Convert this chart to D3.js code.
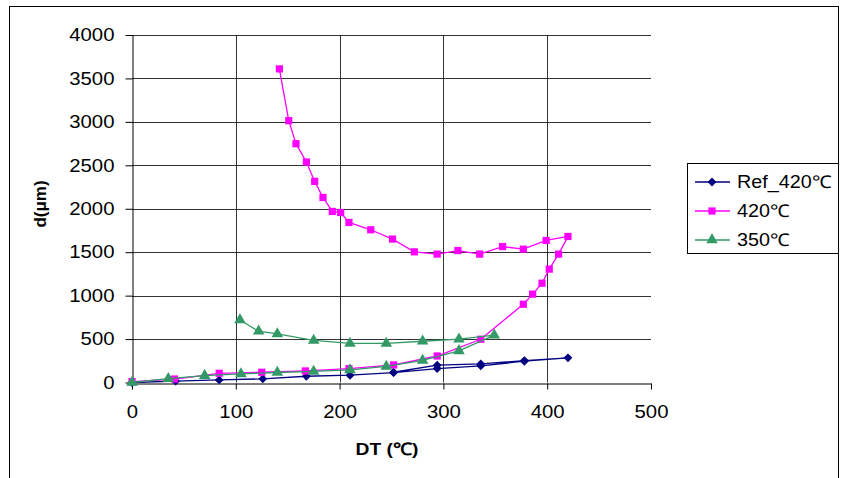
<!DOCTYPE html>
<html>
<head>
<meta charset="utf-8">
<script src="https://cdn.jsdelivr.net/npm/d3@7"></script>
<style>
  body { margin: 0; background: #fff; }
  text { font-family: "Liberation Sans", Arial, sans-serif; }
</style>
</head>
<body>
<script>
const width = 841;
const height = 478;

// x (DT, °C) and y (d, µm) for each series, in drawing order
const refX = [0, 42, 84, 126, 168, 210, 252, 294, 336, 378, 420, 378, 336, 294, 252];
const refY = [0, 15, 30, 42, 72, 84, 113, 160, 192, 245, 284, 252, 214, 200, 118];
const t420X = [0, 41, 84, 125, 167, 209, 252, 294, 336, 377, 386, 395, 402, 411, 420,
  399, 377, 357, 335, 314, 294, 272, 251, 230, 209, 201, 193, 184, 176, 168, 158, 151, 142];
const t420Y = [10, 40, 106, 118, 133, 159, 202, 305, 498, 901, 1017, 1143, 1305, 1478, 1681,
  1635, 1535, 1565, 1478, 1519, 1478, 1504, 1651, 1758, 1842, 1957, 1969, 2130, 2315, 2538, 2749, 3014, 3610];
const t350X = [0, 35, 70, 105, 140, 175, 210, 245, 280, 315, 349, 315, 280, 245, 210, 175, 140, 122, 104];
const t350Y = [0, 45, 80, 100, 115, 128, 145, 185, 255, 365, 545, 500, 475, 450, 450, 485, 560, 590, 720];

const xTicks = [0, 100, 200, 300, 400, 500];
const yTicks = [0, 500, 1000, 1500, 2000, 2500, 3000, 3500, 4000];
const seriesNames = ["Ref_420\u2103", "420\u2103", "350\u2103"];

const series = [
  { name: seriesNames[0], xs: refX, ys: refY, color: "#000080", marker: "diamond" },
  { name: seriesNames[1], xs: t420X, ys: t420Y, color: "#ff00ff", marker: "square" },
  { name: seriesNames[2], xs: t350X, ys: t350Y, color: "#339966", marker: "triangle" }
];

const x = d3.scaleLinear().domain([0, 500]).range([132, 651]);
const y = d3.scaleLinear().domain([0, 4000]).range([382.5, 35]);

const svg = d3.select("body").append("svg")
    .attr("width", width)
    .attr("height", height);

// chart border
svg.append("rect")
    .attr("x", 9.5).attr("y", 6.5)
    .attr("width", 829).attr("height", 500)
    .attr("fill", "none")
    .attr("stroke", "#000");

// gridlines
svg.append("g").selectAll("line")
    .data(yTicks.slice(1))
    .join("line")
    .attr("x1", x(0)).attr("x2", x(500))
    .attr("y1", d => Math.round(y(d)) + 0.5).attr("y2", d => Math.round(y(d)) + 0.5)
    .attr("stroke", "#000").attr("stroke-opacity", 0.8);

svg.append("g").selectAll("line")
    .data(xTicks.slice(1, -1))
    .join("line")
    .attr("x1", d => Math.round(x(d)) + 0.5).attr("x2", d => Math.round(x(d)) + 0.5)
    .attr("y1", y(0)).attr("y2", y(4000))
    .attr("stroke", "#000").attr("stroke-opacity", 0.8);

// axes
const xAxis = svg.append("g")
    .attr("transform", `translate(0, ${Math.round(y(0)) + 0.5})`)
    .call(d3.axisBottom(x).tickValues(xTicks).tickFormat(d3.format("d"))
      .tickSize(6).tickSizeOuter(0).tickPadding(16));
const yAxis = svg.append("g")
    .attr("transform", `translate(${Math.round(x(0)) + 0.5}, 0)`)
    .call(d3.axisLeft(y).tickValues(yTicks).tickFormat(d3.format("d"))
      .tickSize(7).tickSizeOuter(0).tickPadding(11));

[xAxis, yAxis].forEach(a => {
  a.attr("font-family", null).attr("font-size", 18);
  a.select(".domain").attr("stroke", "#000");
  a.selectAll(".tick line").attr("stroke", "#000");
  a.selectAll(".tick text").attr("fill", "#000").classed("wide", true);
});

// axis titles
svg.append("text")
    .attr("class", "wide")
    .attr("x", 387).attr("y", 455)
    .attr("text-anchor", "middle")
    .attr("font-size", 17).attr("font-weight", "bold")
    .text("DT (\u2103)");

svg.append("text")
    .attr("transform", "translate(46, 204) rotate(-90)")
    .attr("text-anchor", "middle")
    .attr("font-size", 17).attr("font-weight", "bold")
    .text("d(\u03bcm)");

function markerPath(type) {
  if (type === "diamond") return d3.symbol().type(d3.symbolDiamond2).size(50)();
  if (type === "square") return d3.symbol().type(d3.symbolSquare).size(52)();
  return d3.symbol().type(d3.symbolTriangle).size(58)();
}

const line = d3.line().x(d => x(d[0])).y(d => y(d[1]));

series.forEach(s => {
  const pts = s.xs.map((v, i) => [v, s.ys[i]]);
  const g = svg.append("g");
  g.append("path")
      .attr("d", line(pts))
      .attr("fill", "none")
      .attr("stroke", s.color)
      .attr("stroke-width", 1.3);
  g.selectAll("path.m")
      .data(pts)
      .join("path")
      .attr("class", "m")
      .attr("transform", d => `translate(${x(d[0])}, ${y(d[1])})`)
      .attr("d", markerPath(s.marker))
      .attr("fill", s.color);
});

// legend
const legend = svg.append("g");
legend.append("rect")
    .attr("x", 687.5).attr("y", 163.5)
    .attr("width", 151).attr("height", 90)
    .attr("fill", "#fff")
    .attr("stroke", "#000");

series.forEach((s, i) => {
  const ly = 182 + i * 29;
  legend.append("line")
      .attr("x1", 695).attr("x2", 730)
      .attr("y1", ly).attr("y2", ly)
      .attr("stroke", s.color).attr("stroke-width", 1.3);
  legend.append("path")
      .attr("transform", `translate(712, ${ly})`)
      .attr("d", markerPath(s.marker))
      .attr("fill", s.color);
  legend.append("text")
      .attr("class", "wide")
      .attr("x", 737).attr("y", ly + 6)
      .attr("font-size", 17.5)
      .text(s.name);
});

// the original picture is stretched horizontally: widen the upright texts
svg.selectAll("text.wide").each(function() {
  const w = this.getComputedTextLength();
  d3.select(this)
      .attr("textLength", w * 1.13)
      .attr("lengthAdjust", "spacingAndGlyphs");
});
</script>
</body>
</html>
